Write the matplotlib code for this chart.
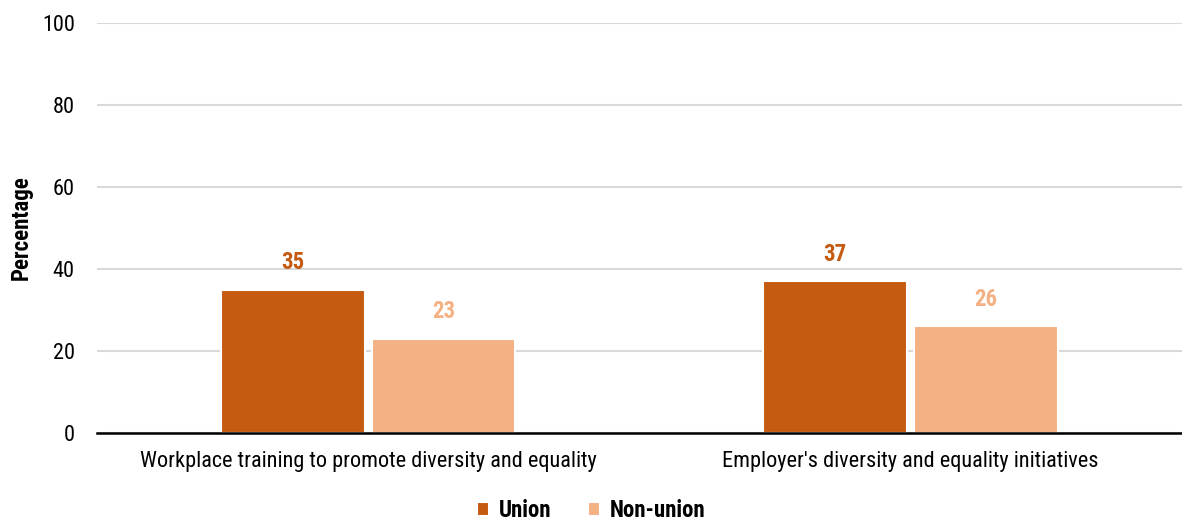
import matplotlib.pyplot as plt
import numpy as np

plt.rcParams['font.family'] = ['Roboto Condensed', 'Liberation Sans', 'DejaVu Sans']

categories = ['Workplace training to promote diversity and equality',
              "Employer's diversity and equality initiatives"]
union = [35, 37]
non_union = [23, 26]
series = ['Union', 'Non-union']
colors = ['#C55A11', '#F4B183']

fig = plt.figure(figsize=(11.82, 5.24), dpi=100)
ax = fig.add_axes([0.082, 0.1737, 0.918, 0.7823])

x = np.arange(len(categories))
w = 0.265
off = 0.139
b1 = ax.bar(x - off, union, w, color=colors[0], edgecolor='white', linewidth=1.5, label=series[0], zorder=3)
b2 = ax.bar(x + off, non_union, w, color=colors[1], edgecolor='white', linewidth=1.5, label=series[1], zorder=3)

# value labels above each bar, same colour as the bar
for bars, c in [(b1, colors[0]), (b2, colors[1])]:
    for r in bars:
        ax.annotate(f'{r.get_height():.0f}', (r.get_x() + r.get_width() / 2, r.get_height()),
                    xytext=(0, 11), textcoords='offset points', ha='center', va='bottom',
                    color=c, fontsize=16.5, fontweight='bold')

ax.set_xlim(-0.5, 1.5)
ax.set_ylim(0, 100)
ax.set_yticks(range(0, 101, 20))
ax.set_xticks(x)
ax.set_xticklabels(categories, fontsize=16)
ax.tick_params(axis='y', labelsize=16, length=0, pad=16)
ax.tick_params(axis='x', length=0, pad=13)
ax.yaxis.grid(True, color='#D9D9D9', linewidth=1.5, zorder=0)
ax.set_axisbelow(True)
for s in ['top', 'right', 'left']:
    ax.spines[s].set_visible(False)
ax.spines['bottom'].set_linewidth(1.8)
ax.spines['bottom'].set_zorder(4)
ax.set_ylabel('Percentage', fontsize=16.5, fontweight='bold')
ax.yaxis.set_label_coords(-0.059, 0.5)

fig.legend(handles=[b1, b2], loc='lower center', bbox_to_anchor=(0.5, -0.035), ncol=2, frameon=False,
           prop={'size': 16.5, 'weight': 'bold'}, handlelength=0.55, handleheight=0.55,
           handletextpad=0.4, columnspacing=1.6)

fig.savefig('out.png', dpi=100)
